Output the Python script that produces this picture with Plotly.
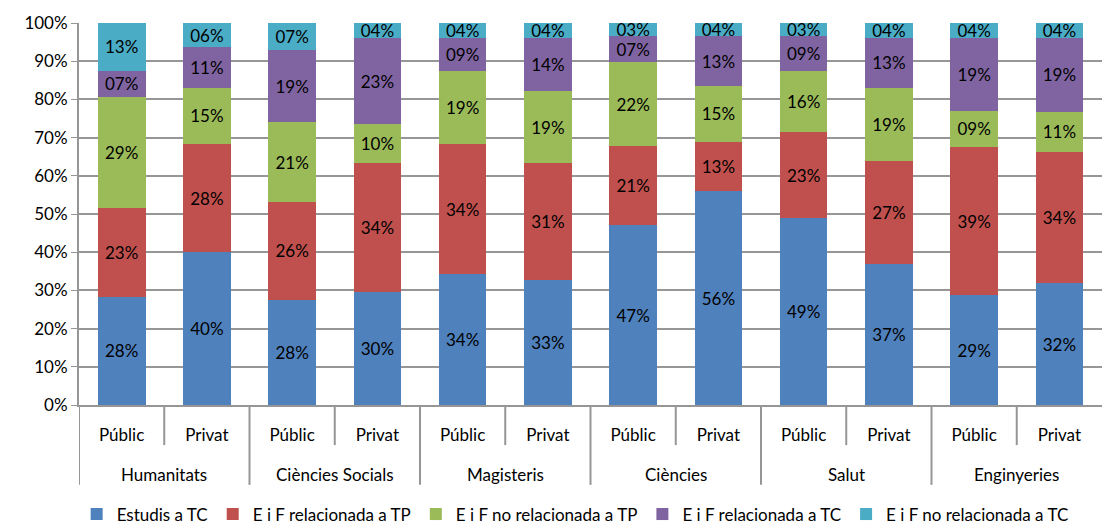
import plotly.graph_objects as go

groups = ["Humanitats", "Ciències Socials", "Magisteris", "Ciències", "Salut", "Enginyeries"]
types = ["Públic", "Privat"]

# share of each situation per bar (Públic, Privat for every group), in %
estudis_tc = [28.3, 40.0, 27.6, 29.7, 34.2, 32.8, 47.1, 55.9, 48.9, 36.8, 28.7, 31.9]
rel_tp = [23.3, 28.3, 25.6, 33.7, 34.2, 30.6, 20.6, 13.0, 22.6, 27.2, 38.9, 34.3]
norel_tp = [29.1, 14.8, 20.8, 10.1, 19.1, 18.7, 22.0, 14.6, 16.0, 19.0, 9.4, 10.6]
rel_tc = [6.8, 10.6, 19.0, 22.6, 8.6, 14.0, 6.9, 13.0, 9.1, 13.1, 19.2, 19.3]
norel_tc = [12.5, 6.3, 7.0, 3.9, 3.9, 3.9, 3.4, 3.5, 3.4, 3.9, 3.8, 3.9]

series = [
    ("Estudis a TC", estudis_tc, "#4F81BD"),
    ("E i F relacionada a TP", rel_tp, "#C0504D"),
    ("E i F no relacionada a TP", norel_tp, "#9BBB59"),
    ("E i F relacionada a TC", rel_tc, "#8064A2"),
    ("E i F no relacionada a TC", norel_tc, "#4BACC6"),
]

# one unique category per bar, shown with the Públic / Privat label
bar_ids = [g + " " + t for g in groups for t in types]
bar_labels = [t for _ in groups for t in types]

fig = go.Figure()
for name, vals, color in series:
    fig.add_trace(go.Bar(
        x=bar_ids, y=vals, name=name,
        marker=dict(color=color, line=dict(width=0)),
        texttemplate="%{y:02.0f}%", textposition="inside",
        insidetextanchor="middle", textangle=0, constraintext="none",
        textfont=dict(color="black", size=17),
    ))

grid = "#969696"
# separators below the axis: short between Públic/Privat, long between groups
for k in range(len(groups)):
    fig.add_shape(type="line", xref="x", yref="paper", x0=2 * k - 0.5, x1=2 * k - 0.5,
                  y0=0, y1=-0.209, line=dict(color=grid, width=2))
    fig.add_shape(type="line", xref="x", yref="paper", x0=2 * k + 0.5, x1=2 * k + 0.5,
                  y0=0, y1=-0.105, line=dict(color=grid, width=2))
    fig.add_annotation(x=2 * k + 0.5, xref="x", y=-0.182, yref="paper", text=groups[k],
                       showarrow=False, yanchor="middle", font=dict(size=17))

fig.update_layout(
    barmode="stack", bargap=0.44,
    width=1110, height=525,
    margin=dict(l=79, r=8, t=23, b=120, autoexpand=False),
    paper_bgcolor="white", plot_bgcolor="white",
    font=dict(family="Lato, Open Sans, sans-serif", size=17, color="black"),
    uniformtext=dict(minsize=17, mode="show"),
    legend=dict(orientation="h", x=0.485, xanchor="center", y=0.02, yref="container",
                yanchor="middle", font=dict(size=17), traceorder="normal", itemwidth=30),
)
fig.update_yaxes(range=[0, 100], dtick=10, ticksuffix="%", showgrid=True,
                 gridcolor=grid, gridwidth=2, showline=True, linecolor=grid,
                 linewidth=2, ticks="outside", ticklen=6, tickcolor=grid,
                 zeroline=False)
fig.update_xaxes(showline=True, linecolor=grid, linewidth=2, ticks="",
                 tickvals=bar_ids, ticktext=bar_labels, ticklabelstandoff=14,
                 range=[-0.5, len(bar_ids) - 0.5])

fig.write_html("out.html", config={"displayModeBar": False},
               post_script="document.body.style.margin='0';")
